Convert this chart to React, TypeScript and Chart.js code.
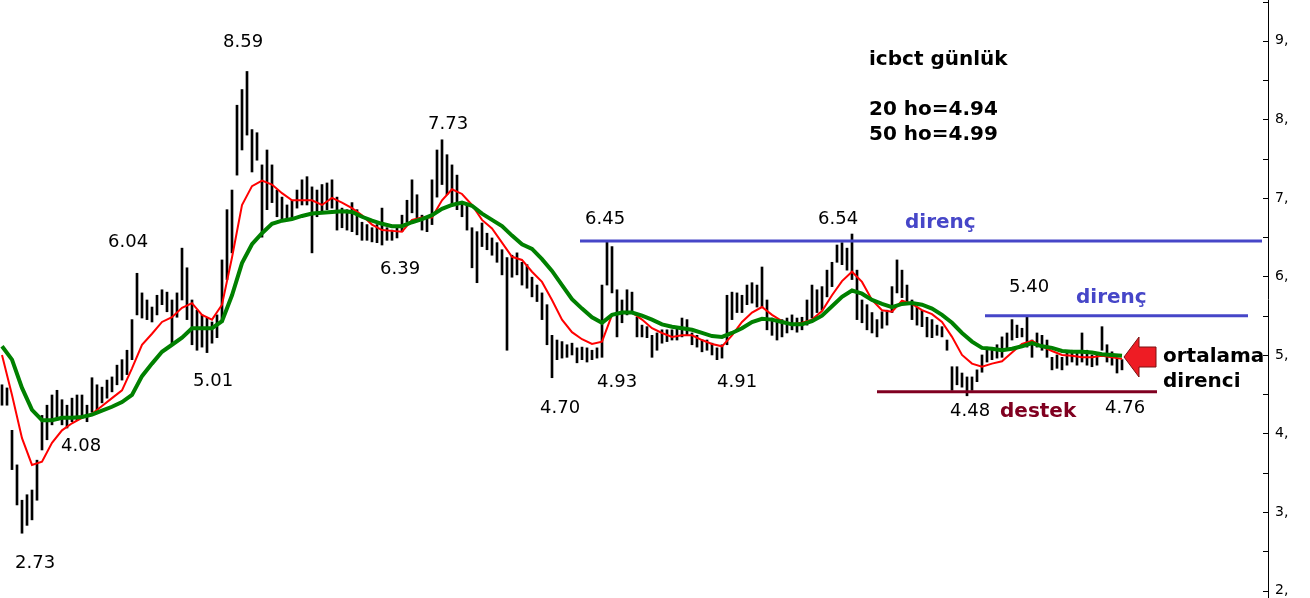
import React, { useEffect, useRef } from "react";
import { Chart, registerables } from "chart.js";
Chart.register(...registerables);

// daily bars (index = trading day), high / low
const barHigh = [
  4.62, 4.58, 4.04, 3.60, 3.15, 3.22, 3.28, 3.66, 4.23, 4.36,
  4.49, 4.55, 4.43, 4.36, 4.45, 4.49, 4.49, 4.36, 4.71, 4.62,
  4.59, 4.68, 4.72, 4.87, 4.94, 5.06, 5.45, 6.04, 5.79, 5.70,
  5.61, 5.76, 5.83, 5.80, 5.70, 5.79, 6.36, 6.11, 5.70, 5.57,
  5.51, 5.47, 5.42, 5.51, 6.21, 6.85, 7.10, 8.18, 8.38, 8.61,
  7.87, 7.83, 7.42, 7.61, 7.42, 7.10, 7.01, 6.91, 6.97, 7.10,
  7.23, 7.27, 7.14, 7.10, 7.17, 7.19, 7.23, 7.01, 6.87, 6.85,
  6.94, 6.85, 6.69, 6.66, 6.62, 6.66, 6.87, 6.62, 6.59, 6.64,
  6.78, 6.97, 7.23, 7.04, 6.78, 6.75, 7.23, 7.61, 7.74, 7.55,
  7.42, 7.29, 6.94, 6.91, 6.62, 6.57, 6.68, 6.55, 6.49, 6.43,
  6.34, 6.24, 6.27, 6.30, 6.18, 6.15, 5.99, 5.89, 5.79, 5.64,
  5.25, 5.19, 5.17, 5.13, 5.15, 5.09, 5.10, 5.09, 5.06, 5.09,
  5.89, 6.45, 6.38, 5.83, 5.70, 5.83, 5.80, 5.48, 5.38, 5.36,
  5.25, 5.28, 5.32, 5.32, 5.32, 5.34, 5.47, 5.45, 5.28, 5.25,
  5.19, 5.19, 5.15, 5.09, 5.13, 5.76, 5.80, 5.79, 5.76, 5.89,
  5.92, 5.89, 6.12, 5.70, 5.47, 5.45, 5.45, 5.47, 5.51, 5.47,
  5.48, 5.70, 5.89, 5.83, 5.87, 6.08, 6.18, 6.40, 6.43, 6.36,
  6.54, 6.08, 5.70, 5.64, 5.54, 5.45, 5.55, 5.57, 5.87, 6.21,
  6.08, 5.89, 5.70, 5.61, 5.57, 5.48, 5.45, 5.38, 5.36, 5.19,
  4.85, 4.85, 4.77, 4.72, 4.72, 4.81, 5.00, 5.10, 5.09, 5.13,
  5.23, 5.28, 5.45, 5.38, 5.34, 5.48, 5.19, 5.28, 5.25, 5.19,
  4.97, 5.00, 4.97, 5.04, 5.06, 5.04, 5.28, 5.06, 5.00, 5.03,
  5.36, 5.13, 5.04, 4.96, 4.94,
];
const barLow = [
  4.36, 4.36, 3.54, 3.09, 2.73, 2.83, 2.90, 3.15, 3.79, 3.92,
  4.11, 4.17, 4.11, 4.07, 4.15, 4.17, 4.20, 4.15, 4.27, 4.30,
  4.39, 4.45, 4.53, 4.62, 4.68, 4.75, 4.94, 5.51, 5.47, 5.45,
  5.42, 5.51, 5.64, 5.55, 5.15, 5.48, 5.70, 5.45, 5.13, 5.06,
  5.10, 5.03, 5.15, 5.22, 5.42, 5.96, 6.30, 7.29, 7.61, 7.80,
  7.33, 7.48, 6.50, 6.85, 6.94, 6.76, 6.72, 6.72, 6.75, 6.87,
  6.91, 6.91, 6.30, 6.76, 6.82, 6.85, 6.87, 6.59, 6.62, 6.59,
  6.57, 6.53, 6.46, 6.46, 6.44, 6.43, 6.40, 6.46, 6.46, 6.49,
  6.57, 6.69, 6.81, 6.72, 6.59, 6.57, 6.66, 7.01, 7.17, 7.04,
  6.91, 6.85, 6.76, 6.59, 6.11, 5.92, 6.38, 6.34, 6.27, 6.18,
  6.02, 5.06, 5.99, 6.02, 5.89, 5.85, 5.74, 5.68, 5.45, 5.13,
  4.71, 4.94, 4.96, 4.97, 5.00, 4.90, 4.94, 4.91, 4.94, 4.96,
  4.97, 5.89, 5.79, 5.23, 5.41, 5.51, 5.54, 5.23, 5.23, 5.22,
  4.97, 5.06, 5.15, 5.17, 5.19, 5.19, 5.23, 5.25, 5.13, 5.10,
  5.04, 5.06, 5.00, 4.94, 4.96, 5.13, 5.45, 5.54, 5.54, 5.64,
  5.66, 5.61, 5.61, 5.32, 5.25, 5.19, 5.23, 5.28, 5.32, 5.29,
  5.32, 5.38, 5.47, 5.54, 5.57, 5.74, 5.87, 6.18, 6.15, 6.08,
  5.96, 5.45, 5.41, 5.32, 5.28, 5.23, 5.34, 5.38, 5.54, 5.79,
  5.73, 5.64, 5.45, 5.38, 5.36, 5.23, 5.22, 5.25, 5.23, 5.06,
  4.55, 4.62, 4.59, 4.48, 4.55, 4.66, 4.78, 4.91, 4.94, 4.96,
  4.97, 5.06, 5.19, 5.22, 5.23, 5.10, 4.97, 5.10, 5.06, 4.97,
  4.81, 4.83, 4.81, 4.87, 4.91, 4.87, 4.91, 4.87, 4.85, 4.87,
  5.06, 4.91, 4.87, 4.77, 4.81,
];

// moving averages sampled every 2nd day
const maStep = 2;
const ma20 = [
  5.00, 4.49, 3.94, 3.60, 3.64, 3.88, 4.04, 4.13, 4.20, 4.25,
  4.35, 4.45, 4.55, 4.83, 5.13, 5.27, 5.42, 5.48, 5.60, 5.66,
  5.51, 5.45, 5.64, 6.24, 6.91, 7.15, 7.22, 7.17, 7.06, 6.97,
  6.97, 6.97, 6.91, 7.00, 6.94, 6.87, 6.78, 6.66, 6.59, 6.58,
  6.57, 6.72, 6.75, 6.75, 6.97, 7.11, 7.05, 6.91, 6.72, 6.61,
  6.43, 6.25, 6.21, 6.06, 5.93, 5.70, 5.45, 5.29, 5.20, 5.14,
  5.17, 5.51, 5.54, 5.54, 5.45, 5.34, 5.28, 5.23, 5.25, 5.25,
  5.19, 5.14, 5.11, 5.25, 5.42, 5.54, 5.61, 5.51, 5.43, 5.39,
  5.41, 5.45, 5.56, 5.76, 5.94, 6.06, 5.93, 5.70, 5.57, 5.55,
  5.69, 5.65, 5.57, 5.52, 5.42, 5.23, 5.00, 4.89, 4.85, 4.89,
  4.92, 5.03, 5.14, 5.18, 5.11, 5.05, 5.00, 4.99, 4.97, 4.97,
  4.99, 4.97, 4.95,
];
const ma50 = [
  5.11, 4.94, 4.58, 4.30, 4.17, 4.17, 4.20, 4.20, 4.21, 4.24,
  4.29, 4.34, 4.40, 4.49, 4.73, 4.89, 5.04, 5.13, 5.22, 5.34,
  5.34, 5.34, 5.43, 5.76, 6.17, 6.41, 6.55, 6.67, 6.71, 6.73,
  6.77, 6.80, 6.81, 6.82, 6.83, 6.82, 6.76, 6.71, 6.67, 6.64,
  6.64, 6.69, 6.73, 6.78, 6.86, 6.91, 6.94, 6.90, 6.80, 6.72,
  6.64, 6.52, 6.41, 6.35, 6.22, 6.07, 5.89, 5.71, 5.59, 5.48,
  5.41, 5.51, 5.54, 5.54, 5.50, 5.45, 5.39, 5.36, 5.34, 5.32,
  5.28, 5.24, 5.23, 5.28, 5.34, 5.42, 5.46, 5.45, 5.42, 5.39,
  5.39, 5.43, 5.50, 5.62, 5.74, 5.82, 5.78, 5.70, 5.65, 5.61,
  5.65, 5.66, 5.64, 5.59, 5.51, 5.41, 5.28, 5.17, 5.09, 5.08,
  5.06, 5.08, 5.11, 5.15, 5.11, 5.09, 5.05, 5.04, 5.04, 5.03,
  5.01, 5.00, 4.99,
];

// horizontal levels: resistance 1, resistance 2, support
const levelValues = [6.45, 5.5, 4.53];
const levelFrom = [115.6, 196.6, 175];
const levelTo = [252, 249.2, 231];
const levelColors = ["#4646c8", "#4646c8", "#800020"];

const priceLabels = ["8.59", "6.04", "5.01", "4.08", "2.73", "7.73", "6.39", "4.70", "6.45", "4.93", "4.91", "6.54", "5.40", "4.48", "4.76"];
const priceLabelPos: [number, number][] = [
  [223, 42], [108, 242], [193, 381], [61, 446], [15, 563], [428, 124], [380, 269], [540, 408],
  [585, 219], [597, 382], [717, 382], [818, 219], [1009, 287], [950, 411], [1105, 408],
];
const boldTexts = ["icbct günlük", "20 ho=4.94", "50 ho=4.99", "direnç", "direnç", "destek", "ortalama", "direnci"];
const boldPos: [number, number, string][] = [
  [869, 60, "#000"], [869, 110, "#000"], [869, 135, "#000"], [905, 223, "#4646c8"],
  [1076, 298, "#4646c8"], [1000, 412, "#800020"], [1163, 357, "#000"], [1163, 382, "#000"],
];

const annotPlugin = {
  id: "annot",
  afterDraw(chart: any) {
    const ctx = chart.ctx as CanvasRenderingContext2D;
    const ys = chart.scales.y;
    ctx.save();
    // inward tick marks
    ctx.strokeStyle = "#000";
    ctx.lineWidth = 1;
    ys.ticks.forEach((t: any) => {
      const y = Math.round(ys.getPixelForValue(t.value)) + 0.5;
      ctx.beginPath();
      ctx.moveTo(ys.left - 5, y);
      ctx.lineTo(ys.left, y);
      ctx.stroke();
    });
    ctx.textBaseline = "middle";
    ctx.textAlign = "left";
    ctx.fillStyle = "#000";
    ctx.font = '18px "DejaVu Sans"';
    priceLabels.forEach((s, i) => ctx.fillText(s, priceLabelPos[i][0], priceLabelPos[i][1]));
    ctx.font = 'bold 20px "DejaVu Sans"';
    boldTexts.forEach((s, i) => {
      ctx.fillStyle = boldPos[i][2];
      ctx.fillText(s, boldPos[i][0], boldPos[i][1]);
    });
    // arrow
    ctx.beginPath();
    ctx.moveTo(1124, 357);
    ctx.lineTo(1139, 337);
    ctx.lineTo(1139, 347);
    ctx.lineTo(1156, 347);
    ctx.lineTo(1156, 367);
    ctx.lineTo(1139, 367);
    ctx.lineTo(1139, 377);
    ctx.closePath();
    ctx.fillStyle = "#ee1c24";
    ctx.fill();
    ctx.strokeStyle = "#7a1010";
    ctx.stroke();
    ctx.restore();
  },
};

export default function App() {
  const ref = useRef<HTMLCanvasElement>(null);
  useEffect(() => {
    document.body.style.margin = "0";
    const canvas = ref.current!;
    const datasets: any[] = [
      {
        type: "line",
        data: ma50.map((v, k) => ({ x: k * maStep, y: v })),
        borderColor: "#008000",
        borderWidth: 4,
        pointRadius: 0,
        order: 0,
      },
      {
        type: "line",
        data: ma20.map((v, k) => ({ x: k * maStep, y: v })),
        borderColor: "#ff0000",
        borderWidth: 2,
        pointRadius: 0,
        order: 1,
      },
      ...levelValues.map((v, i) => ({
        type: "line",
        data: [{ x: levelFrom[i], y: v }, { x: levelTo[i], y: v }],
        borderColor: levelColors[i],
        borderWidth: 3,
        pointRadius: 0,
        order: 2,
      })),
      {
        type: "bar",
        data: barHigh.map((h, i) => ({ x: i, y: [barLow[i], h] })),
        backgroundColor: "#000",
        borderWidth: 0,
        barThickness: 2,
        grouped: false,
        order: 3,
      },
    ];
    const chart = new Chart(canvas, {
      type: "bar",
      data: { datasets },
      plugins: [annotPlugin],
      options: {
        responsive: false,
        animation: false,
        events: [],
        layout: { padding: 0 },
        plugins: { legend: { display: false }, tooltip: { enabled: false } },
        scales: {
          x: { type: "linear", min: -0.4, max: 253.2, offset: false, display: false },
          y: {
            type: "linear",
            position: "right",
            min: 1.905,
            max: 9.52,
            afterFit: (s: any) => {
              s.width = 42;
              s.paddingTop = 0;
              s.paddingBottom = 0;
            },
            grid: { display: false, drawTicks: false },
            border: { display: true, color: "#000", width: 1 },
            ticks: {
              stepSize: 0.5,
              includeBounds: false,
              autoSkip: false,
              maxTicksLimit: 100,
              padding: 7,
              color: "#000",
              font: { size: 14, family: "DejaVu Sans" },
              callback: (v: any) => (Number.isInteger(v) ? `${v},` : ""),
            },
          },
        },
      } as any,
    });
    return () => chart.destroy();
  }, []);
  return (
    <div style={{ position: "absolute", left: 0, top: 0, width: 1310, height: 598, background: "#fff" }}>
      <canvas ref={ref} width={1310} height={598} style={{ display: "block", width: 1310, height: 598 }} />
    </div>
  );
}
